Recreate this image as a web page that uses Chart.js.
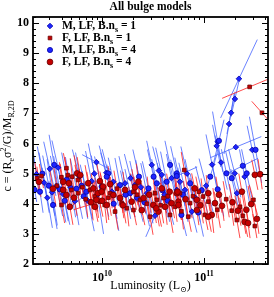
<!DOCTYPE html>
<html>
<head>
<meta charset="utf-8">
<script src="https://cdn.jsdelivr.net/npm/chart.js@4.4.1/dist/chart.umd.min.js"></script>
<style>
  html, body { margin: 0; padding: 0; background: #fff; }
</style>
</head>
<body>
<canvas id="chart" width="274" height="297"></canvas>
<script>
// each row: [luminosity, c, half-width of the error line in dex, half-height in c]
// a negative c half-height tilts the line the other way
const mlfN1 = [
  [2.27e9, 4.98, 0.03, 0.7], [3.07e9, 5.16, 0.06, 0.9], [3.24e9, 4.38, 0.05, 1.1],
  [3.57e9, 4.59, 0.06, 1.0], [4.15e9, 4.32, 0.05, 0.9], [5.4e9, 4.09, 0.04, 0.8],
  [7.3e9, 4.09, 0.06, 1.0], [1.1e10, 5.03, 0.07, 0.9], [1.29e10, 4.73, 0.05, 0.8],
  [1.68e10, 4.68, 0.06, 0.9], [2.1e10, 4.62, 0.05, 0.8], [2.75e10, 4.35, 0.06, 1.0],
  [3.07e10, 5.29, 0.05, 0.8], [3.85e10, 4.96, 0.06, 0.9], [4.8e10, 4.85, 0.05, 0.8],
  [5.4e10, 4.46, 0.06, 1.0], [5.8e10, 4.73, 0.05, 0.8], [6.5e10, 4.46, 0.06, 0.9],
  [7.6e10, 3.74, 0.05, 0.7], [1.36e11, 6.06, 0.05, 1.0], [1.33e11, 5.92, 0.04, 0.7],
  [2.05e11, 5.88, 0.25, -0.35], [2.97e11, 5.79, 0.05, 0.8], [1.47e11, 5.37, 0.06, 0.9],
  [2.0e11, 5.01, 0.06, 0.8], [2.5e11, 4.9, 0.05, 0.9], [2.1e11, 4.35, 0.06, 0.8],
  [2.2e11, 8.15, 0.18, -1.3], [2.01e11, 7.48, 0.04, -0.6], [1.84e11, 7.02, 0.04, -0.7],
  [1.76e11, 6.65, 0.05, -1.0], [9.0e9, 4.3, 0.06, 1.3], [3.3e10, 3.6, 0.09, -0.7],
  [2.7e9, 4.7, 0.05, 1.0], [8.4e9, 5.0, 0.06, 1.0],
  [2.9e9, 4.2, 0.05, 1.0], [3.7e9, 5.2, 0.06, 0.9], [4.9e9, 4.55, 0.05, 1.0],
  [6.0e9, 4.9, 0.07, 0.9], [7.9e9, 4.75, 0.06, 1.0], [1.25e10, 4.4, 0.05, 0.9],
  [8.8e9, 5.38, 0.14, 0.25], [1.9e10, 4.85, 0.06, 0.8], [2.4e10, 4.55, 0.05, 0.9],
  [3.6e10, 5.1, 0.06, 0.8], [4.1e10, 4.3, 0.05, 0.9], [6.8e10, 5.0, 0.06, 0.9],
  [8.2e10, 4.2, 0.05, 0.8], [1.05e11, 4.6, 0.07, 0.9], [1.2e11, 5.3, 0.06, 1.0]
];
const flfN1 = [
  [2.54e9, 4.92, 0.02, 0.4], [3.99e9, 4.88, 0.02, 0.5], [4.47e9, 5.18, 0.03, 0.5],
  [5.1e9, 4.9, 0.02, 0.6], [5.8e9, 4.79, 0.03, 0.5], [5.0e9, 4.46, 0.02, 0.5],
  [4.0e9, 3.96, 0.03, 0.6], [5.8e9, 4.35, 0.02, 0.5], [7.6e9, 4.46, 0.03, 0.6],
  [8.5e9, 4.24, 0.02, 0.5], [9.5e9, 4.07, 0.03, 0.5], [1.06e10, 3.96, 0.02, 0.6],
  [1.03e10, 4.51, 0.03, 0.5], [1.2e10, 4.35, 0.02, 0.5], [1.34e10, 3.74, 0.03, 0.6],
  [1.56e10, 4.02, 0.02, 0.5], [2.03e10, 4.4, 0.03, 0.6], [2.36e10, 4.13, 0.02, 0.5],
  [2.03e10, 3.79, 0.03, 0.5], [2.95e10, 3.57, 0.03, 0.6], [3.44e10, 4.13, 0.02, 0.5],
  [4.0e10, 4.19, 0.03, 0.5], [4.64e10, 3.63, 0.03, 0.6], [5.2e10, 3.9, 0.02, 0.5],
  [6.4e10, 5.12, 0.03, 0.6], [5.8e10, 4.35, 0.02, 0.5], [8.9e10, 4.4, 0.03, 0.5],
  [9.8e10, 4.24, 0.02, 0.6], [1.1e11, 4.07, 0.03, 0.5], [7.3e10, 4.02, 0.02, 0.5],
  [3.05e11, 4.13, 0.04, 0.5], [2.25e11, 3.9, 0.03, 0.6], [1.87e11, 3.77, 0.02, 0.5],
  [1.02e11, 3.63, 0.03, 0.5], [2.1e11, 3.46, 0.03, 0.6], [3.15e11, 3.26, 0.02, 0.4],
  [7.0e10, 3.57, 0.03, 0.5], [2.8e11, 7.88, 0.27, -0.38], [3.7e11, 7.02, 0.1, 0.38],
  [2.3e9, 4.85, 0.02, 0.5], [3.6e9, 4.6, 0.03, 0.6], [4.6e9, 4.95, 0.03, 0.6],
  [6.4e9, 4.55, 0.03, 0.6], [6.9e9, 4.15, 0.02, 0.6], [1.15e10, 4.2, 0.03, 0.6],
  [1.4e10, 4.5, 0.03, 0.6], [1.75e10, 3.85, 0.02, 0.6], [2.2e10, 4.3, 0.03, 0.6],
  [2.75e10, 4.0, 0.03, 0.6], [3.3e10, 4.35, 0.02, 0.6], [3.75e10, 3.95, 0.03, 0.6],
  [4.4e10, 4.25, 0.03, 0.6], [6.0e10, 3.75, 0.02, 0.6], [7.8e10, 4.25, 0.03, 0.6],
  [1.35e11, 3.8, 0.03, 0.6], [1.65e11, 4.15, 0.03, 0.6], [2.4e11, 3.6, 0.03, 0.6]
];
const mlfN4 = [
  [2.18e9, 4.46, 0.02, 0.4], [3.39e9, 5.29, 0.05, 1.0], [3.3e9, 3.96, 0.04, 0.8],
  [3.84e9, 4.48, 0.06, 1.1], [1.15e10, 5.01, 0.06, 0.8], [1.5e10, 4.62, 0.05, 0.9],
  [9.9e9, 4.57, 0.07, 1.0], [1.88e10, 4.35, 0.05, 0.8], [2.85e10, 4.51, 0.06, 0.9],
  [3.44e10, 4.68, 0.05, 0.8], [4.3e10, 4.73, 0.06, 1.0], [4.64e10, 5.29, 0.05, 0.8],
  [5.4e10, 5.01, 0.06, 0.9], [5.4e10, 4.92, 0.2, -0.3], [7.3e10, 4.68, 0.05, 0.8],
  [1.36e11, 4.48, 0.06, 0.9], [1.66e11, 5.01, 0.05, 0.8], [1.87e11, 4.85, 0.06, 0.9],
  [2.4e11, 5.26, 0.15, -0.25], [2.62e11, 5.01, 0.05, 0.8], [3.2e11, 5.79, 0.06, 1.1],
  [8.8e10, 3.71, 0.05, 0.8], [6.0e10, 3.63, 0.05, 0.7], [1.11e10, 4.9, 0.06, 0.8],
  [6.3e9, 4.6, 0.06, 1.1], [4.5e9, 4.8, 0.05, 0.9], [2.46e9, 4.4, 0.03, 0.7],
  [1.4e11, 6.09, 0.05, -0.7], [2.2e10, 4.2, 0.06, 0.8], [6.6e9, 4.25, 0.12, -0.35],
  [2.6e9, 5.0, 0.05, 0.9], [3.0e9, 4.6, 0.06, 1.0], [4.3e9, 4.1, 0.05, 0.8],
  [5.6e9, 4.5, 0.06, 1.0], [7.0e9, 4.4, 0.06, 0.9], [1.3e10, 4.0, 0.05, 0.9],
  [1.7e10, 4.3, 0.05, 0.8], [2.3e10, 4.9, 0.06, 0.9], [2.6e10, 4.05, 0.05, 0.8],
  [3.2e10, 4.9, 0.06, 0.9], [3.9e10, 4.45, 0.05, 0.9], [4.4e10, 4.1, 0.06, 0.8],
  [6.2e10, 4.3, 0.05, 0.9], [9.5e10, 4.45, 0.06, 0.8], [1.15e11, 4.9, 0.07, -0.8]
];
const flfN4 = [
  [2.4e9, 4.73, 0.02, 0.5], [4.15e9, 4.73, 0.03, 0.6], [4.72e9, 4.68, 0.02, 0.5],
  [5.69e9, 5.01, 0.03, 0.6], [4.15e9, 4.46, 0.02, 0.5], [4.83e9, 3.9, 0.03, 0.6],
  [4.47e9, 4.29, 0.02, 0.5], [7.3e9, 4.68, 0.03, 0.6], [8.2e9, 4.51, 0.02, 0.5],
  [9.1e9, 4.35, 0.03, 0.5], [8.8e9, 4.13, 0.02, 0.6], [1.02e10, 4.57, 0.03, 0.5],
  [8.5e9, 3.9, 0.03, 0.5], [9.9e9, 4.4, 0.02, 0.5], [1.29e10, 4.29, 0.03, 0.6],
  [1.11e10, 3.96, 0.02, 0.5], [1.5e10, 4.19, 0.03, 0.5], [1.68e10, 4.46, 0.02, 0.6],
  [1.95e10, 4.07, 0.03, 0.5], [2.27e10, 4.73, 0.02, 0.6], [2.45e10, 3.79, 0.03, 0.5],
  [2.55e10, 4.19, 0.02, 0.5], [3.18e10, 3.96, 0.03, 0.6], [3.85e10, 4.51, 0.02, 0.5],
  [3.57e10, 3.74, 0.03, 0.5], [4.15e10, 3.9, 0.02, 0.6], [4.8e10, 4.02, 0.03, 0.5],
  [5.4e10, 4.35, 0.02, 0.5], [5.6e10, 4.07, 0.03, 0.6], [3.15e11, 4.96, 0.03, 0.5],
  [3.55e11, 4.98, 0.02, 0.5], [2.35e11, 4.4, 0.03, 0.6], [5.5e10, 4.4, 0.02, 0.5],
  [8.1e10, 4.51, 0.03, 0.5], [1.1e11, 4.35, 0.02, 0.6], [8.5e10, 4.13, 0.03, 0.5],
  [1.28e11, 4.02, 0.02, 0.5], [2.9e11, 3.99, 0.03, 0.6], [1.5e11, 3.93, 0.02, 0.5],
  [2.15e11, 3.77, 0.03, 0.5], [1.19e11, 3.63, 0.02, 0.6], [2.5e11, 3.4, 0.03, 0.5],
  [2.7e11, 3.36, 0.02, 0.5], [1.1e11, 3.57, 0.03, 0.5], [8.5e10, 3.79, 0.02, 0.5],
  [5.6e10, 3.96, 0.03, 0.5], [1.0e10, 4.1, 0.28, -0.3],
  [3.3e9, 4.5, 0.03, 0.6], [5.3e9, 4.2, 0.03, 0.6], [6.1e9, 4.95, 0.03, 0.6],
  [7.8e9, 4.05, 0.02, 0.6], [9.5e9, 4.75, 0.03, 0.6], [1.2e10, 4.65, 0.02, 0.6],
  [1.6e10, 3.95, 0.03, 0.6], [2.1e10, 4.55, 0.03, 0.6], [2.9e10, 4.3, 0.02, 0.6],
  [3.4e10, 3.85, 0.03, 0.6], [4.6e10, 4.4, 0.03, 0.6], [6.6e10, 4.15, 0.02, 0.6],
  [9.2e10, 3.95, 0.03, 0.6], [1.4e11, 4.3, 0.03, 0.6], [1.9e11, 4.05, 0.03, 0.6],
  [2.6e11, 3.8, 0.03, 0.6], [3.3e11, 3.5, 0.02, 0.5]
];

const seriesLabels = ['M, LF, B.n|s| = 1', 'F, LF, B.n|s| = 1', 'M, LF, B.n|s| = 4', 'F, LF, B.n|s| = 4'];
const yTicks = [2, 3, 4, 5, 6, 7, 8, 9, 10];
const xTicks = [1e10, 1e11];

const BLUE = '#1d24ff', BLUE_EDGE = '#0000a8', BLUE_LINE = 'rgba(70,100,255,0.8)';
const RED = '#c40000', RED_EDGE = '#6a0000', RED_LINE = 'rgba(255,30,30,0.8)';
const SERIF = '"Liberation Serif", "DejaVu Serif", serif';

function pts(rows) {
  return rows.map(r => ({x: r[0], y: r[1]}));
}
function segs(rows) {
  const out = [];
  rows.forEach(r => {
    const f = Math.pow(10, r[2]);
    out.push({x: r[0] / f, y: r[1] + r[3]});
    out.push({x: r[0] * f, y: r[1] - r[3]});
    out.push({x: r[0], y: null});
  });
  return out;
}
function lineSet(rows, color, order) {
  return {data: segs(rows), showLine: true, spanGaps: false, borderColor: color,
    borderWidth: 1, pointRadius: 0, order: order};
}
function pointSet(rows, style, r, fill, edge, order) {
  return {data: pts(rows), pointStyle: style, pointRadius: r, pointBackgroundColor: fill,
    pointBorderColor: edge, pointBorderWidth: 0.8, showLine: false, order: order};
}

// text with |sub| and ^sup^ pieces
function richParts(str) {
  const parts = [];
  const re = /\|([^|]*)\||\^([^^]*)\^|([^|^]+)/g;
  let m;
  while ((m = re.exec(str))) {
    if (m[1] !== undefined) parts.push({t: m[1], k: 'sub'});
    else if (m[2] !== undefined) parts.push({t: m[2], k: 'sup'});
    else parts.push({t: m[3], k: 'n'});
  }
  return parts;
}
function drawRich(ctx, str, x, y, size, weight, align) {
  const parts = richParts(str);
  const fontFor = p => weight + ' ' + (p.k === 'n' ? size : Math.round(size * 0.68)) + 'px ' + SERIF;
  let w = 0;
  parts.forEach(p => { ctx.font = fontFor(p); w += ctx.measureText(p.t).width; });
  let cx = align === 'center' ? x - w / 2 : align === 'right' ? x - w : x;
  ctx.textAlign = 'left';
  ctx.textBaseline = 'middle';
  parts.forEach(p => {
    ctx.font = fontFor(p);
    const dy = p.k === 'sub' ? size * 0.3 : p.k === 'sup' ? -size * 0.38 : 0;
    ctx.fillText(p.t, cx, y + dy);
    cx += ctx.measureText(p.t).width;
  });
}

const decor = {
  id: 'decor',
  afterDatasetsDraw(chart) {
    const {ctx, chartArea: a, scales: {x, y}} = chart;
    ctx.save();
    ctx.fillStyle = '#000';
    ctx.strokeStyle = '#000';

    // inward ticks
    ctx.lineWidth = 1;
    ctx.beginPath();
    for (let i = 0; i <= 41; i++) {
      const v = 2 + i * 0.2;
      const py = Math.round(y.getPixelForValue(v)) + 0.5;
      const len = i % 5 === 0 ? 6 : 3;
      ctx.moveTo(a.left, py); ctx.lineTo(a.left + len, py);
      ctx.moveTo(a.right, py); ctx.lineTo(a.right - len, py);
    }
    for (let d = 9; d <= 11; d++) {
      for (let m = 1; m <= 9; m++) {
        const v = m * Math.pow(10, d);
        if (v < x.min || v > x.max) continue;
        const px = Math.round(x.getPixelForValue(v)) + 0.5;
        const len = m === 1 ? 6 : 3;
        ctx.moveTo(px, a.bottom); ctx.lineTo(px, a.bottom - len);
        ctx.moveTo(px, a.top); ctx.lineTo(px, a.top + len);
      }
    }
    ctx.stroke();

    ctx.lineWidth = 1.8;
    ctx.strokeRect(a.left, a.top, a.right - a.left, a.bottom - a.top);

    // tick labels
    yTicks.forEach(v => drawRich(ctx, String(v), a.left - 4, y.getPixelForValue(v), 12, 'bold', 'right'));
    xTicks.forEach(v => drawRich(ctx, '10^' + Math.round(Math.log10(v)) + '^', x.getPixelForValue(v), a.bottom + 14, 12, 'bold', 'center'));

    // titles
    drawRich(ctx, 'All bulge models', (a.left + a.right) / 2, 7, 11.5, 'bold', 'center');
    drawRich(ctx, 'Luminosity (L|\u2299|)', (a.left + a.right) / 2, 286, 12, 'normal', 'center');
    ctx.save();
    ctx.translate(8, 146);
    ctx.rotate(-Math.PI / 2);
    drawRich(ctx, 'c = (R|e|\u03c3^2^/G)/M|R,2D|', 0, 0, 12, 'normal', 'center');
    ctx.restore();

    // legend
    const styles = [
      ['rectRot', 2.8, BLUE, BLUE_EDGE], ['rect', 2.6, RED, RED_EDGE],
      ['circle', 2.6, BLUE, BLUE_EDGE], ['circle', 2.9, RED, RED_EDGE]
    ];
    seriesLabels.forEach((lab, i) => {
      const ly = 26 + i * 12;
      const s = styles[i];
      ctx.fillStyle = s[2]; ctx.strokeStyle = s[3]; ctx.lineWidth = 0.8;
      Chart.helpers.drawPoint(ctx, {pointStyle: s[0], radius: s[1], rotation: 0, borderWidth: 0.8}, 50, ly);
      ctx.fillStyle = '#000';
      drawRich(ctx, lab, 62, ly, 11.5, 'bold', 'left');
    });
    ctx.restore();
  }
};

new Chart(document.getElementById('chart'), {
  type: 'scatter',
  data: {
    datasets: [
      lineSet(mlfN1, BLUE_LINE, 8),
      lineSet(mlfN4, BLUE_LINE, 7),
      lineSet(flfN1, RED_LINE, 6),
      lineSet(flfN4, RED_LINE, 5),
      pointSet(mlfN1, 'rectRot', 2.8, BLUE, BLUE_EDGE, 4),
      pointSet(mlfN4, 'circle', 2.6, BLUE, BLUE_EDGE, 3),
      pointSet(flfN1, 'rect', 2.6, RED, RED_EDGE, 2),
      pointSet(flfN4, 'circle', 2.9, RED, RED_EDGE, 1)
    ]
  },
  options: {
    responsive: false,
    animation: false,
    devicePixelRatio: 1,
    layout: {padding: {left: 33, right: 6, top: 17, bottom: 33}},
    scales: {
      x: {type: 'logarithmic', min: 2.1e9, max: 4.24e11, display: false},
      y: {type: 'linear', min: 2, max: 10.2, display: false}
    },
    plugins: {legend: {display: false}, tooltip: {enabled: false}}
  },
  plugins: [decor]
});
</script>
</body>
</html>
